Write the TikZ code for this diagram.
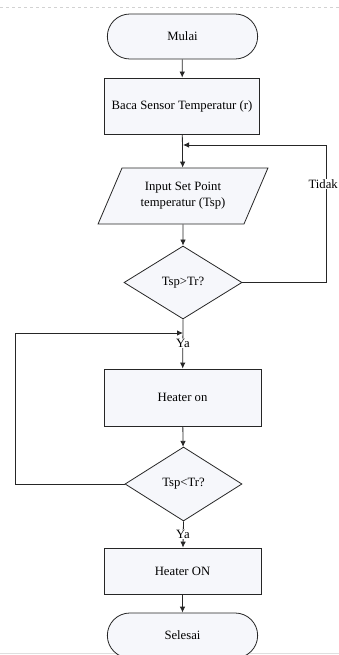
\documentclass[tikz,border=0pt]{standalone}
\usepackage{fontspec}
\setmainfont{Liberation Serif}
\usetikzlibrary{arrows.meta,shapes.geometric,shapes.misc}
\definecolor{kotak}{RGB}{246,247,251}

\begin{document}
\begin{tikzpicture}[x=1pt, y=-1pt,
  every node/.style={font=\fontsize{12.7}{16}\selectfont},
  garis/.style={line width=0.8pt, draw=black!85},
  panah/.style={garis, -{Latex[length=6pt,width=5.5pt]}},
  isian/.style={garis, fill=kotak},
  terminal/.style={isian, rounded rectangle, minimum width=157pt, minimum height=45pt},
  proses/.style={isian, rectangle, minimum width=155pt},
  masukan/.style={isian, trapezium, trapezium left angle=62, trapezium right angle=118,
    trapezium stretches=true, minimum width=170pt, minimum height=56pt, align=center},
  keputusan/.style={isian, diamond, inner sep=0pt},
  label/.style={fill=white, inner sep=1pt}]

  % Batas gambar
  \useasboundingbox (0,0) rectangle (339,655);
  \draw[gray!35, dashed] (0,7) -- (339,7);
  \draw[gray!25] (0,653) -- (339,653);

  % Simbol
  \node[terminal] (mulai) at (182.5,36.5) {Mulai};
  \node[proses, minimum height=56pt] (baca) at (182,106) {Baca Sensor Temperatur (r)};
  \node[masukan] (input) at (183,196) {Input Set Point\\temperatur (Tsp)};
  \node[keputusan, minimum width=118pt, minimum height=73pt] (cekA) at (183,282.5) {Tsp>Tr?};
  \node[proses, minimum width=157pt, minimum height=57pt] (heater) at (182.5,397.5) {Heater on};
  \node[keputusan, minimum width=117pt, minimum height=74pt] (cekB) at (183.5,484) {Tsp<Tr?};
  \node[proses, minimum width=157pt, minimum height=46pt] (heaterON) at (182.5,571) {Heater ON};
  \node[terminal] (selesai) at (182.5,635.5) {Selesai};

  % Titik bantu
  \coordinate (gabungA) at (183,145);
  \coordinate (tidakA) at (326,145);
  \coordinate (gabungB) at (183,333);
  \coordinate (balikB) at (15,333);

  % Alur
  \draw[panah] (mulai) -- (baca);
  \draw[panah] (baca) -- (input);
  \draw[panah] (input) -- (cekA);
  \draw[panah] (cekA.east) -| (tidakA) -- (gabungA);
  \draw[panah] (cekA.south) -- (heater);
  \draw[panah] (cekB.west) -| (balikB) -- (gabungB);
  \draw[panah] (heater) -- (cekB);
  \draw[panah] (cekB.south) -- (heaterON);
  \draw[panah] (heaterON) -- (selesai);

  % Keterangan
  \node[label, anchor=east] (tidak) at (339,184) {Tidak};
  \node[label] (yaA) at (183,343) {Ya};
  \node[label] (yaB) at (183,534) {Ya};

\end{tikzpicture}
\end{document}
